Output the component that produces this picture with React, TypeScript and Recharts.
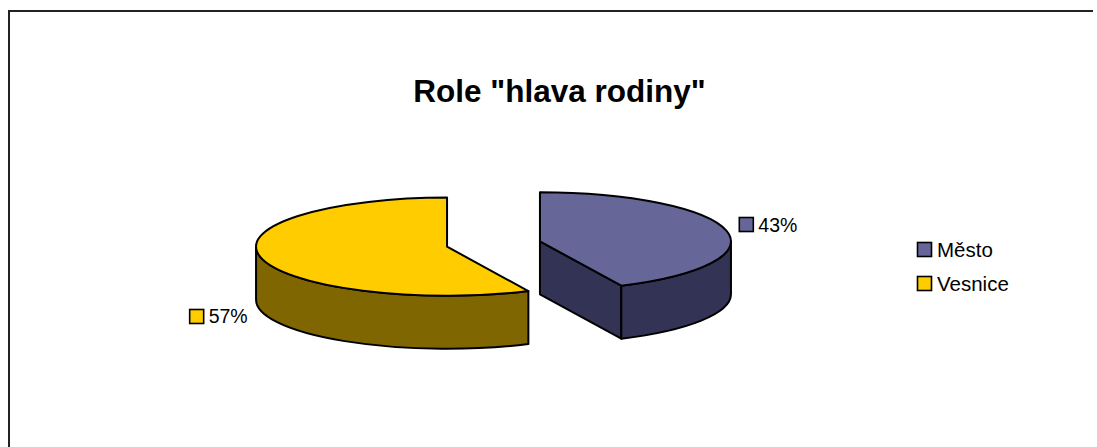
import { PieChart, Pie, Cell, Legend } from 'recharts';

// data
const categories = ['Město', 'Vesnice'];
const shares = [43, 57];

const TOP_COLORS = ['#666699', '#FFCC00'];
const SIDE_COLORS = ['#333355', '#806600'];

const W = 1097;
const H = 447;
const FONT = '"Liberation Sans", Arial, Helvetica, sans-serif';
const LABEL_FS = 19.5;
const LEGEND_FS = 20.5;

// 3d look
const TILT = 0.257;
const DEPTH = 53;
const EXPLODE = 47.6;
const RAD = Math.PI / 180;

const data = categories.map((name, i) => ({ name, value: shares[i] }));

const charW: Record<string, number> = { '%': 0.889 };
const textWidth = (s: string, fs: number) =>
  s.split('').reduce((w, c) => w + (charW[c] ?? 0.556), 0) * fs;

function explodedCenter(cx: number, cy: number, mid: number) {
  return {
    ox: cx + EXPLODE * Math.cos(mid * RAD),
    oy: cy - EXPLODE * TILT * Math.sin(mid * RAD),
  };
}

function Slice3D(props: any) {
  const { cx, cy, outerRadius, startAngle, endAngle, fill } = props;
  const rx = outerRadius;
  const ry = outerRadius * TILT;
  const hi = Math.max(startAngle, endAngle);
  const lo = Math.min(startAngle, endAngle);
  const { ox, oy } = explodedCenter(cx, cy, (hi + lo) / 2);
  const name = props.payload?.name ?? props.name;
  const idx = categories.indexOf(name);
  const side = SIDE_COLORS[idx] ?? fill;

  const p = (a: number, d = 0) => `${ox + rx * Math.cos(a * RAD)},${oy - ry * Math.sin(a * RAD) + d}`;
  const c = (d = 0) => `${ox},${oy + d}`;

  const walls: string[] = [];
  // flat walls facing the viewer
  if (Math.cos(hi * RAD) < -1e-6) walls.push(`M${c()} L${p(hi)} L${p(hi, DEPTH)} L${c(DEPTH)} Z`);
  if (Math.cos(lo * RAD) > 1e-6) walls.push(`M${c()} L${p(lo)} L${p(lo, DEPTH)} L${c(DEPTH)} Z`);

  // outer rim on the front half
  const rims: string[] = [];
  for (let k = -2; k <= 1; k++) {
    const a = Math.max(lo, k * 360 - 180);
    const b = Math.min(hi, k * 360);
    if (b - a > 0.01) {
      rims.push(
        `M${p(b)} A${rx},${ry} 0 0 1 ${p(a)} L${p(a, DEPTH)} A${rx},${ry} 0 0 0 ${p(b, DEPTH)} Z`
      );
    }
  }

  const large = hi - lo > 180 ? 1 : 0;
  const top = `M${c()} L${p(hi)} A${rx},${ry} 0 ${large} 1 ${p(lo)} Z`;

  return (
    <g>
      {walls.map((d, i) => (
        <path key={'w' + i} d={d} fill={side} stroke="#000" strokeWidth={2} strokeLinejoin="round" />
      ))}
      {rims.map((d, i) => (
        <path key={'r' + i} d={d} fill={side} stroke="#000" strokeWidth={2} strokeLinejoin="round" />
      ))}
      <path d={top} fill={fill} stroke="#000" strokeWidth={2} strokeLinejoin="round" />
    </g>
  );
}

function renderLabel(props: any) {
  const { cx, cy, outerRadius, midAngle, percent, index } = props;
  const m = midAngle * RAD;
  const { ox, oy } = explodedCenter(cx, cy, midAngle);
  const rx = outerRadius;
  const ry = outerRadius * TILT;
  const rimX = ox + rx * Math.cos(m);
  const rimY = oy - ry * Math.sin(m) + (Math.sin(m) < 0 ? DEPTH : 0);
  const lx = rimX + 43 * Math.cos(m);
  const ly = rimY - 28 * Math.sin(m);
  const text = `${Math.round(percent * 100)}%`;
  const total = 14 + 5 + textWidth(text, LABEL_FS);
  const x0 = lx - total / 2;
  return (
    <g key={'lbl' + index}>
      <rect x={x0} y={ly - 7} width={14} height={14} fill={TOP_COLORS[index]} stroke="#000" strokeWidth={1.6} />
      <text x={x0 + 19} y={ly + 7} fontSize={LABEL_FS} fontFamily={FONT} fill="#000">
        {text}
      </text>
    </g>
  );
}

function renderLegend(props: any) {
  const items =
    props.payload && props.payload.length
      ? props.payload.map((it: any) => ({ value: it.value, color: it.color }))
      : categories.map((n, i) => ({ value: n, color: TOP_COLORS[i] }));
  return (
    <svg width={140} height={80} style={{ overflow: 'visible' }}>
      {items.map((it: any, i: number) => (
        <g key={it.value}>
          <rect x={1.5} y={11.5 + i * 34} width={14} height={14} fill={it.color} stroke="#000" strokeWidth={1.6} />
          <text x={21} y={25.7 + i * 34} fontSize={LEGEND_FS} fontFamily={FONT} fill="#000">
            {it.value}
          </text>
        </g>
      ))}
    </svg>
  );
}

export default function App() {
  const pieExtra: any = { shape: Slice3D, activeShape: Slice3D, inactiveShape: Slice3D };
  return (
    <div style={{ position: 'absolute', left: 0, top: 0, width: W, height: H, overflow: 'hidden', background: '#fff' }}>
      <svg width={W} height={H} style={{ position: 'absolute', left: 0, top: 0 }}>
        <path d={`M9 ${H + 5} V11 H${W - 4}`} fill="none" stroke="#222" strokeWidth={2} />
        <text x={559.5} y={102} textAnchor="middle" fontSize={31.5} fontWeight="bold" fontFamily={FONT} fill="#000">
          Role "hlava rodiny"
        </text>
      </svg>
      <div style={{ position: 'absolute', left: 0, top: 0 }}>
        <PieChart width={W} height={H} margin={{ top: 0, right: 0, bottom: 0, left: 0 }}>
          <Pie
            data={data}
            dataKey="value"
            nameKey="name"
            cx={493.5}
            cy={244}
            outerRadius={191}
            startAngle={90}
            endAngle={-270}
            stroke="#000"
            {...pieExtra}
            label={renderLabel}
            labelLine={false}
            isAnimationActive={false}
          >
            {data.map((d, i) => (
              <Cell key={d.name} fill={TOP_COLORS[i]} />
            ))}
          </Pie>
          <Legend
            layout="vertical"
            align="right"
            verticalAlign="top"
            content={renderLegend}
            wrapperStyle={{ position: 'absolute', left: 915.5, top: 231, width: 140, height: 80 }}
          />
        </PieChart>
      </div>
    </div>
  );
}
